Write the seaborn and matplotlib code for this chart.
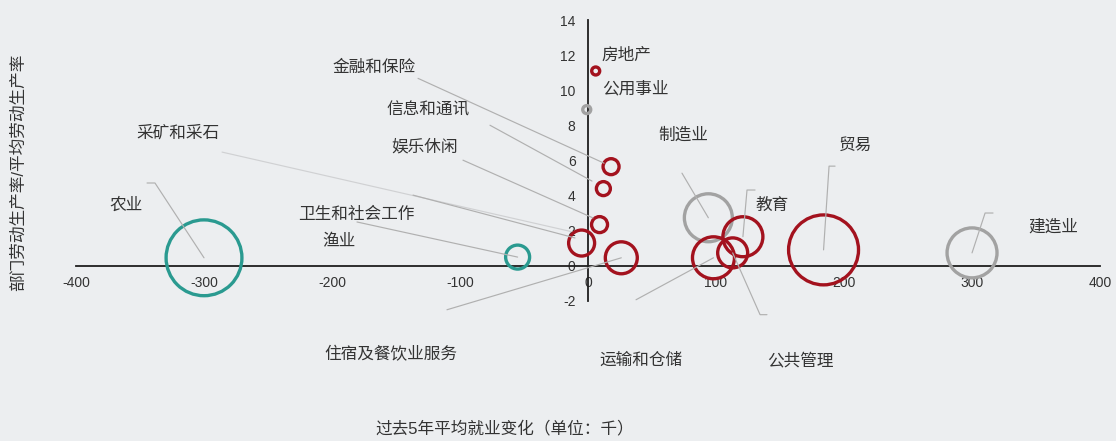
import matplotlib
matplotlib.use("Agg")
import matplotlib.pyplot as plt
import seaborn as sns
import pandas as pd

# ---- data -------------------------------------------------------------
sectors = ["农业", "渔业", "房地产", "公用事业", "金融和保险", "信息和通讯",
           "娱乐休闲", "卫生和社会工作", "住宿及餐饮业服务", "制造业",
           "运输和仓储", "公共管理", "教育", "贸易", "建造业"]
emp_change = [-300, -55, 6, -1, 18, 12, 9, -5, 26, 94, 98, 113, 121, 184, 300]
productivity = [0.46, 0.5, 11.1, 8.9, 5.65, 4.4, 2.35, 1.3, 0.46, 2.74,
                0.46, 0.74, 1.66, 0.91, 0.74]
employment = [144, 14.4, 1.6, 1.6, 6.4, 4.9, 6.4, 16.9, 25.6, 57.6,
              44.1, 22.5, 40.0, 122.5, 62.5]
group = ["第一产业", "第一产业", "服务业", "第二产业", "服务业", "服务业",
         "服务业", "服务业", "服务业", "第二产业", "服务业", "服务业",
         "服务业", "服务业", "第二产业"]

x_ticks = [-400, -300, -200, -100, 0, 100, 200, 300, 400]
y_ticks = [-2, 0, 2, 4, 6, 8, 10, 12, 14]

x_title = "过去5年平均就业变化（单位：千）"
y_title = "部门劳动生产率/平均劳动生产率"

palette = {"第一产业": "#2a9a90", "第二产业": "#a2a2a2", "服务业": "#a3121e"}

df = pd.DataFrame({"sector": sectors, "emp_change": emp_change,
                   "productivity": productivity, "employment": employment,
                   "group": group})

# ---- style --------------------------------------------------------------
BG = "#eceef0"
TXT = "#333333"
LEAD = "#b0b0b0"

sns.set_theme(style="white")
plt.rcParams["font.family"] = ["Liberation Sans", "Noto Sans CJK SC", "DejaVu Sans"]
plt.rcParams["axes.unicode_minus"] = False

fig = plt.figure(figsize=(11.16, 4.41), dpi=100, facecolor=BG)
ax = fig.add_axes([0.0681, 0.3175, 0.9176, 0.637])
ax.set_facecolor(BG)

# bubble area proportional to employment
k = 20.7
sns.scatterplot(data=df, x="emp_change", y="productivity", hue="group",
                palette=palette, size="employment",
                sizes=(k * min(employment), k * max(employment)),
                legend=False, ax=ax, linewidth=2.4, zorder=3, clip_on=False)
coll = ax.collections[0]
coll.set_edgecolors(coll.get_facecolors())
coll.set_facecolors("none")

ax.set_xlim(-400, 400)
ax.set_ylim(-2, 14)

# axes crossing at the origin
for side in ("top", "right"):
    ax.spines[side].set_visible(False)
ax.spines["left"].set_position(("data", 0))
ax.spines["bottom"].set_position(("data", 0))
for side in ("left", "bottom"):
    ax.spines[side].set_color("#1e1e1e")
    ax.spines[side].set_linewidth(1.3)
    ax.spines[side].set_zorder(2)

ax.set_xticks(x_ticks)
ax.set_xticklabels([str(v) for v in x_ticks])
ax.set_yticks(y_ticks)
ax.set_yticklabels([str(v) for v in y_ticks])
ax.tick_params(axis="x", length=0, pad=7, labelsize=10, labelcolor=TXT)
ax.tick_params(axis="y", length=0, pad=9, labelsize=10, labelcolor=TXT)
ax.set_xlabel("")
ax.set_ylabel("")

# ---- labels and leader lines -------------------------------------------
pos = dict(zip(sectors, zip(emp_change, productivity)))

labels = [
    ("房地产", 29.7, 12.0), ("公用事业", 36.7, 10.06),
    ("金融和保险", -167.2, 11.3), ("信息和通讯", -125.0, 8.86),
    ("娱乐休闲", -128.1, 6.76), ("采矿和采石", -320.3, 7.56),
    ("制造业", 74.2, 7.44), ("贸易", 208.6, 6.88), ("教育", 143.8, 3.47),
    ("建造业", 363.3, 2.22), ("农业", -361.0, 3.47),
    ("卫生和社会工作", -181.3, 2.95), ("渔业", -194.5, 1.36),
    ("住宿及餐饮业服务", -153.9, -5.06), ("运输和仓储", 41.4, -5.4),
    ("公共管理", 165.6, -5.4),
]
for text, lx, ly in labels:
    ax.text(lx, ly, text, ha="center", va="center", fontsize=12,
            color=TXT, family=["Noto Sans CJK SC", "DejaVu Sans"],
            clip_on=False, zorder=5)

# leader paths: list of points, ending at a bubble where one is named
leaders = [
    ([(-344.5, 4.72), (-338.3, 4.72)], "农业"),
    ([(-132.8, 10.68), (12.5, 5.85)], None),
    ([(-76.6, 8.01), (3.1, 4.83)], None),
    ([(-97.7, 6.02), (3.9, 2.73)], None),
    ([(-180.5, 2.5)], "渔业"),
    ([(-136.7, 4.03), (-10.2, 1.59)], None),
    ([(-110.2, -2.5)], "住宿及餐饮业服务"),
    ([(37.5, -1.93)], "运输和仓储"),
    ([(139.8, -2.78), (134.4, -2.78)], "公共管理"),
    ([(130.5, 4.32), (124.2, 4.32)], "教育"),
    ([(73.4, 5.28)], "制造业"),
    ([(193.0, 5.68), (188.3, 5.68)], "贸易"),
    ([(316.4, 3.01), (310.2, 3.01)], "建造业"),
]
for pts, target in leaders:
    pts = list(pts)
    if target is not None:
        pts.append(pos[target])
    xs, ys = zip(*pts)
    ax.plot(xs, ys, color=LEAD, lw=0.85, clip_on=False, zorder=4)

# faint leader from 采矿和采石
ax.plot([-285.9, -11.7], [6.48, 1.93], color="#d0d1d3", lw=0.85,
        clip_on=False, zorder=1)

fig.text(505 / 1116, 1 - 428 / 441, x_title, ha="center", va="center",
         fontsize=12, color=TXT)
fig.text(18 / 1116, 1 - 172 / 441, y_title, ha="center", va="center",
         rotation=90, fontsize=12, color=TXT)

fig.savefig("out.png", dpi=100, facecolor=BG)
